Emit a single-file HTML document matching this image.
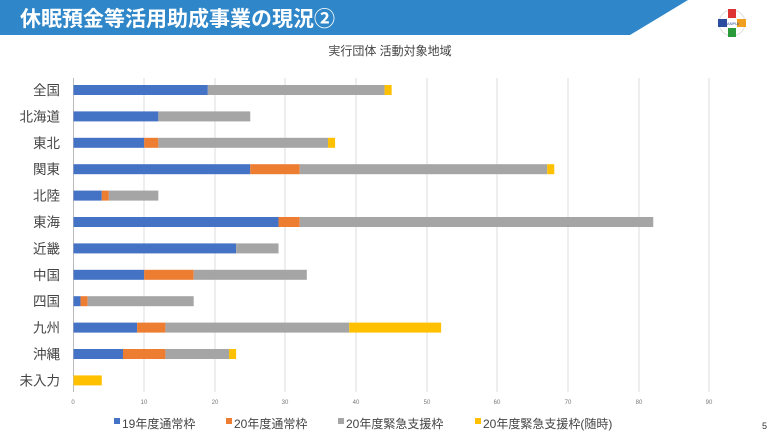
<!DOCTYPE html>
<html><head><meta charset="utf-8"><style>
body{margin:0;width:780px;height:439px;background:#fff;overflow:hidden;position:relative;font-family:"Liberation Sans","Noto Sans CJK JP",sans-serif}
.t{position:absolute;white-space:nowrap}
</style></head><body>
<svg width="780" height="439" style="position:absolute;left:0;top:0" font-family="Liberation Sans, Noto Sans CJK JP, sans-serif">
<polygon points="0,0 688,0 630,35 0,35" fill="#2f86c8"/>
<text x="20" y="26" font-size="21" font-weight="bold" fill="#fff">休眠預金等活用助成事業の現況②</text>
<g transform="translate(732,23)">
<circle r="13" fill="#fff" stroke="#ddd"/>
<rect x="-4" y="-14" width="8" height="9" fill="#d33"/>
<rect x="-4" y="5" width="8" height="9" fill="#2a9a3a"/>
<rect x="-14" y="-4" width="9" height="8" fill="#2a4da0"/>
<rect x="5" y="-4" width="9" height="8" fill="#f0a020"/>
<text x="0" y="2" font-size="4" text-anchor="middle" fill="#2a4da0">JANPIA</text>
</g>
<text x="390" y="55" font-size="12" text-anchor="middle" fill="#444">実行団体 活動対象地域</text>
<g stroke="#ddd" stroke-width="1">
<line x1="144" y1="78" x2="144" y2="392"/><line x1="215" y1="78" x2="215" y2="392"/><line x1="285" y1="78" x2="285" y2="392"/><line x1="356" y1="78" x2="356" y2="392"/><line x1="427" y1="78" x2="427" y2="392"/><line x1="497" y1="78" x2="497" y2="392"/><line x1="568" y1="78" x2="568" y2="392"/><line x1="639" y1="78" x2="639" y2="392"/><line x1="709" y1="78" x2="709" y2="392"/>
</g>
<line x1="73.5" y1="78" x2="73.5" y2="392" stroke="#bbb"/>
<g font-size="6" fill="#777" text-anchor="middle">
<text x="73" y="404">0</text><text x="144" y="404">10</text><text x="215" y="404">20</text><text x="285" y="404">30</text><text x="356" y="404">40</text><text x="427" y="404">50</text><text x="497" y="404">60</text><text x="568" y="404">70</text><text x="639" y="404">80</text><text x="709" y="404">90</text>
</g>
<g id="bars"></g>
<g font-size="13.5" fill="#444" text-anchor="end" id="labs"></g>
<g font-size="12" fill="#444">
<rect x="114" y="418" width="6" height="6" fill="#4472c4"/><text x="122" y="428">19年度通常枠</text>
<rect x="226" y="418" width="6" height="6" fill="#ed7d31"/><text x="234" y="428">20年度通常枠</text>
<rect x="338" y="418" width="6" height="6" fill="#a5a5a5"/><text x="346" y="428">20年度緊急支援枠</text>
<rect x="475" y="418" width="6" height="6" fill="#ffc000"/><text x="483" y="428">20年度緊急支援枠(随時)</text>
</g>
<text x="762" y="429" font-size="9" fill="#333">5</text>
</svg>
<script>
var d=[["全国",[19,0,25,1]],["北海道",[12,0,13,0]],["東北",[10,2,24,1]],["関東",[25,7,35,1]],["北陸",[4,1,7,0]],["東海",[29,3,50,0]],["近畿",[23,0,6,0]],["中国",[10,7,16,0]],["四国",[1,1,15,0]],["九州",[9,4,26,13]],["沖縄",[7,6,9,1]],["未入力",[0,0,0,4]]];
var c=["#4472c4","#ed7d31","#a5a5a5","#ffc000"],s=7.07,ns="http://www.w3.org/2000/svg";
var b=document.getElementById("bars"),l=document.getElementById("labs");
d.forEach(function(r,i){var y=90+i*26.4,x=73.5;r[1].forEach(function(v,j){if(!v)return;var e=document.createElementNS(ns,"rect");e.setAttribute("x",x);e.setAttribute("y",y-5);e.setAttribute("width",v*s);e.setAttribute("height",10);e.setAttribute("fill",c[j]);b.appendChild(e);x+=v*s;});
var t=document.createElementNS(ns,"text");t.setAttribute("x",60);t.setAttribute("y",y+5);t.textContent=r[0];l.appendChild(t);});
</script>
</body></html>
